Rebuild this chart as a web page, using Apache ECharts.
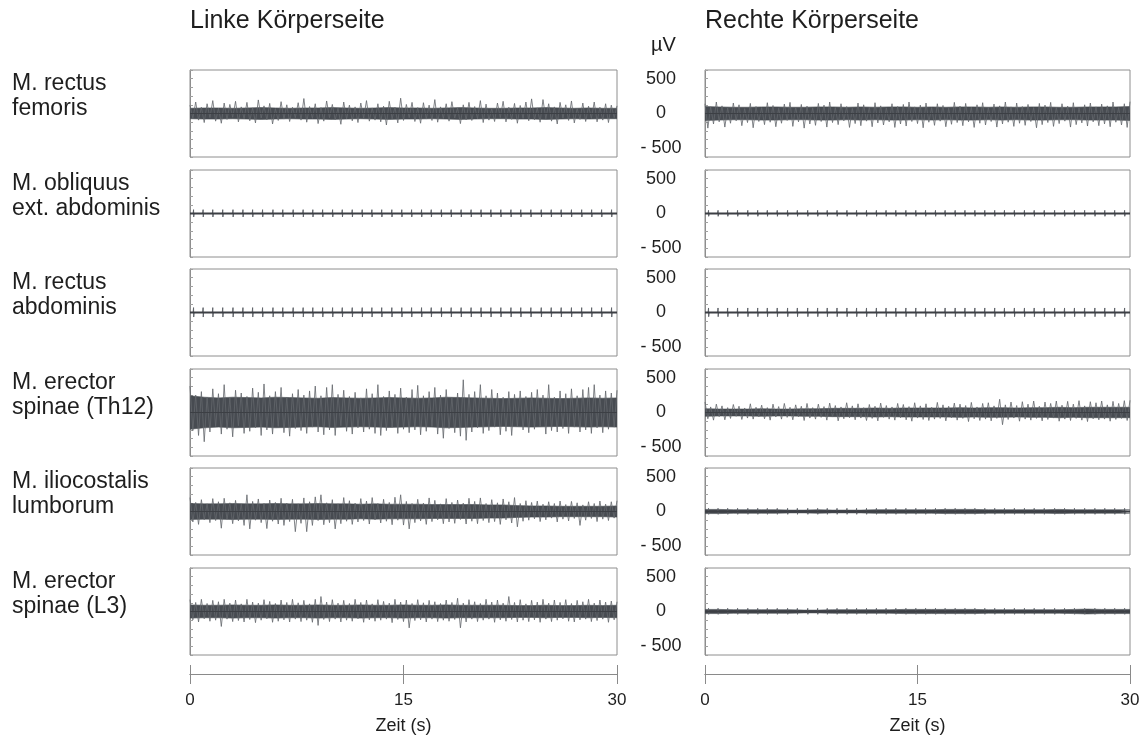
<!DOCTYPE html>
<html><head><meta charset="utf-8">
<script src="https://cdn.jsdelivr.net/npm/echarts@6/dist/echarts.min.js"></script>
<style>html,body{margin:0;padding:0;background:#fff}#c{width:1147px;height:740px}</style>
</head><body><div id="c"></div>
<script>
// ---------- DATA ----------
const sideTitles = ['Linke Körperseite', 'Rechte Körperseite'];
const rowLabels = ['M. rectus\nfemoris', 'M. obliquus\next. abdominis', 'M. rectus\nabdominis',
  'M. erector\nspinae (Th12)', 'M. iliocostalis\nlumborum', 'M. erector\nspinae (L3)'];
const unitLabel = 'µV';
const yTickLabels = [500, 0, -500];
const xTicks = [0, 15, 30];
const xName = 'Zeit (s)';
const timeMax = 30;

// heartbeat (ECG) artefact times in s
const heartbeats = [0.25, 0.92, 1.6, 2.3, 3.02, 3.72, 4.4, 5.1, 5.83, 6.52, 7.25, 7.95, 8.63, 9.32, 10.02,
  10.7, 11.4, 12.1, 12.78, 13.47, 14.18, 14.88, 15.57, 16.27, 16.95, 17.66, 18.35, 19.05, 19.75, 20.45,
  21.14, 21.84, 22.55, 23.24, 23.95, 24.68, 25.38, 26.08, 26.8, 27.52, 28.22, 28.92, 29.62];

// peak excursions (µV) every 0.2 s, alternating up/down
const spikeStep = 0.2;
const spikesL1 = [120,-70,165,-95,90,-130,140,-60,185,-110, 75,-140,150,-85,130,-55,175,-120,95,-75,
 160,-105,80,-135,195,-65,110,-90,145,-150, 70,-100,170,-80,125,-115,90,-60,155,-95,
 215,-125,100,-70,140,-145,85,-110,180,-60, 130,-90,75,-155,165,-80,120,-105,95,-130,
 150,-65,185,-110,80,-95,140,-120,105,-165, 175,-75,90,-135,220,-100,130,-60,160,-115,
 85,-140,155,-80,120,-100,200,-125,95,-70, 140,-110,170,-65,80,-145,125,-90,160,-100,
 100,-75,185,-130,135,-95,70,-115,150,-60, 175,-120,90,-85,145,-140,115,-70,165,-105,
 210,-90,80,-125,200,-75,140,-110,95,-150, 160,-65,125,-100,180,-135,75,-85,150,-115,
 105,-70,165,-120,90,-95,140,-130,120,-60,110];
const spikesR1 = [140,-210,95,-150,165,-120,110,-195,80,-140, 150,-105,125,-175,70,-130,145,-205,100,-115,
 85,-160,155,-125,115,-190,75,-140,135,-100, 160,-185,90,-120,130,-210,105,-150,80,-170,
 145,-115,120,-195,165,-130,85,-160,140,-105, 100,-200,75,-145,150,-175,125,-110,90,-190,
 155,-135,110,-165,80,-120,140,-200,100,-150, 130,-180,165,-115,95,-145,120,-205,150,-125,
 85,-170,140,-110,115,-190,75,-155,160,-130, 105,-175,145,-120,90,-200,125,-140,155,-165,
 80,-115,135,-195,110,-150,165,-125,95,-185, 150,-140,100,-170,130,-115,85,-205,145,-160,
 120,-130,160,-185,90,-145,140,-110,105,-195, 155,-160,80,-135,125,-180,150,-120,95,-175,
 135,-150,110,-190,165,-125,85,-165,140,-200,170];
const spikesL4 = [380,-260,250,-330,300,-420,220,-280,340,-200, 270,-310,400,-240,210,-350,320,-190,280,-300,
 230,-270,350,-220,290,-330,410,-250,240,-310, 300,-200,360,-290,220,-340,270,-230,330,-260,
 250,-300,310,-210,380,-280,240,-320,360,-250, 400,-330,260,-190,320,-270,230,-310,290,-220,
 210,-280,340,-240,270,-300,400,-330,230,-260, 310,-210,260,-300,350,-240,220,-290,330,-250,
 390,-320,240,-270,300,-200,360,-310,250,-370, 330,-230,210,-290,280,-340,470,-400,260,-280,
 300,-220,400,-300,240,-260,330,-210,280,-320, 220,-270,300,-330,260,-200,310,-250,230,-290,
 290,-240,330,-200,250,-310,400,-260,220,-280, 310,-230,270,-300,340,-210,240,-280,330,-250,
 360,-300,400,-220,250,-290,310,-240,280,-210,320];
const spikesR4 = [150,-90,80,-110,120,-60,95,-105,70,-85, 115,-55,90,-100,65,-80,125,-95,75,-60,
 105,-90,70,-110,120,-65,85,-95,130,-70, 75,-105,110,-60,90,-115,130,-80,70,-95,
 120,-70,85,-110,135,-65,100,-120,80,-90, 140,-75,95,-105,125,-80,70,-115,115,-85,
 90,-120,135,-70,100,-95,80,-110,130,-75, 115,-105,85,-125,140,-80,95,-100,125,-115,
 75,-95,145,-85,110,-120,90,-75,135,-110, 120,-85,100,-130,145,-90,80,-115,130,-95,
 140,-120,95,-85,190,-175,110,-100,150,-80, 100,-125,155,-95,120,-110,165,-85,90,-120,
 150,-100,130,-80,165,-125,105,-95,160,-115, 120,-85,170,-110,95,-130,155,-90,140,-105,
 165,-95,110,-125,160,-100,130,-85,170,-115,175];
const spikesL5 = [200,-150,130,-185,170,-120,110,-160,185,-130, 140,-240,190,-110,125,-175,160,-135,105,-200,
 240,-250,145,-125,180,-160,115,-245,165,-140, 130,-180,190,-200,120,-145,175,-290,110,-170,
 195,-290,140,-200,210,-130,240,-190,125,-160, 170,-250,110,-175,200,-140,155,-185,120,-150,
 185,-130,150,-180,200,-120,115,-165,175,-140, 130,-190,205,-125,240,-195,145,-250,115,-160,
 175,-135,120,-185,195,-145,160,-120,110,-175, 185,-150,130,-170,165,-115,120,-180,190,-140,
 145,-175,195,-130,115,-160,170,-145,125,-185, 180,-120,140,-165,200,-220,115,-140,155,-125,
 130,-105,150,-145,105,-120,140,-95,115,-150, 150,-110,100,-135,145,-100,125,-200,95,-125,
 140,-100,115,-145,150,-110,105,-130,140,-95,155];
const spikesL6 = [170,-120,130,-150,175,-105,115,-140,160,-125, 140,-215,175,-110,120,-145,165,-130,110,-150,
 175,-115,135,-160,120,-125,170,-105,145,-155, 115,-140,165,-120,130,-150,175,-110,125,-145,
 160,-125,110,-155,175,-200,215,-115,135,-145, 170,-110,120,-150,160,-125,115,-140,175,-105,
 130,-155,165,-120,110,-140,170,-125,145,-110, 120,-160,175,-115,135,-145,165,-235,115,-130,
 170,-120,125,-150,160,-110,140,-145,115,-125, 165,-140,130,-115,190,-235,120,-150,170,-110,
 140,-145,115,-125,175,-110,135,-155,165,-120, 120,-140,215,-115,130,-150,170,-125,110,-145,
 160,-120,135,-155,175,-110,120,-145,165,-125, 130,-105,170,-140,115,-150,160,-120,140,-110,
 175,-145,120,-130,165,-110,135,-155,150,-120,140];

// dense core amplitude (µV, ±) per 1 s
const coreStep = 1;
const coreL1 = [75,80,80,75,80,85,80,75,80,80,85,80,75,80,85,80,80,75,80,85,80,75,75,80,80,85,80,75,80,75,75];
const coreR1 = [100,95,90,90,95,95,90,90,95,95,90,95,90,95,95,90,95,90,95,95,90,95,90,95,95,90,90,95,95,95,100];
const coreL4 = [240,220,210,220,215,210,220,215,210,205,215,210,205,210,215,210,205,210,220,215,210,205,200,205,210,205,200,205,210,205,210];
const coreR4 = [55,50,50,50,55,50,50,55,55,60,60,60,65,60,65,65,65,65,70,65,70,70,65,70,70,75,70,75,75,75,75];
const coreL5 = [115,110,110,115,110,110,115,110,110,115,110,110,105,110,105,105,105,100,100,100,100,95,95,85,80,80,75,75,75,75,80];
const coreL6 = [95,90,90,95,90,90,95,90,90,95,90,90,95,90,90,95,90,90,95,90,90,90,90,85,85,90,85,85,90,85,90];
const coreR5 = [30,30,25,25,25,25,20,20,25,20,20,20,25,25,25,25,25,30,30,30,25,25,25,25,25,30,25,25,25,25,25];
const coreR6 = [30,30,25,25,25,25,25,20,20,25,25,25,25,25,30,30,30,30,30,30,25,25,25,25,25,25,30,35,30,30,30];

// heartbeat artefact amplitude [up, down] in µV
const beatL2 = [55, 50];
const beatR2 = [45, 40];
const beatL3 = [70, 65];
const beatR3 = [65, 60];
const beatR5 = [45, 40];
const beatR6 = [45, 40];

// ---------- LAYOUT ----------
const panels = [
  {row:0,col:0,spikes:spikesL1,core:coreL1}, {row:0,col:1,spikes:spikesR1,core:coreR1},
  {row:1,col:0,beat:beatL2}, {row:1,col:1,beat:beatR2},
  {row:2,col:0,beat:beatL3}, {row:2,col:1,beat:beatR3},
  {row:3,col:0,spikes:spikesL4,core:coreL4}, {row:3,col:1,spikes:spikesR4,core:coreR4},
  {row:4,col:0,spikes:spikesL5,core:coreL5}, {row:4,col:1,core:coreR5,beat:beatR5},
  {row:5,col:0,spikes:spikesL6,core:coreL6}, {row:5,col:1,core:coreR6,beat:beatR6}
];
const colLeft = [190, 705], colW = [427, 425];
const rowTop = [70, 170, 269, 369, 468, 568], panelH = 87;
const FONT = 'Liberation Sans, Arial, sans-serif';
const TXT = '#1e1e1e';
const DARK = '#474b51', LIGHT = '#63676c', FRAME = '#8e8e8e';

const grids = [], xAxes = [], yAxes = [], series = [];
panels.forEach((p, k) => {
  grids.push({left: colLeft[p.col], top: rowTop[p.row], width: colW[p.col], height: panelH,
    show: true, borderColor: FRAME, borderWidth: 1, containLabel: false});
  xAxes.push({gridIndex: k, type: 'value', min: 0, max: timeMax, show: false});
  yAxes.push({gridIndex: k, type: 'value', min: -625, max: 625, interval: 125,
    axisLine: {show: true, lineStyle: {color: FRAME, width: 1}},
    axisTick: {show: true, inside: true, length: 3, lineStyle: {color: '#a0a0a0'}},
    splitLine: {show: false},
    axisLabel: p.col === 1 ? {show: true, margin: 44, align: 'center', fontSize: 18, color: TXT, fontFamily: FONT,
      formatter: v => yTickLabels.includes(v) ? (v < 0 ? '- ' + (-v) : String(v)) : ''} : {show: false}});
  const base = {xAxisIndex: k, yAxisIndex: k, type: 'line', symbol: 'none', silent: true, animation: false};
  if (p.core) {
    [1, -1].forEach(s => series.push(Object.assign({}, base, {
      data: p.core.map((c, i) => [i * coreStep, s * c]),
      lineStyle: {color: DARK, width: 0.6}, areaStyle: {color: DARK, opacity: 1, origin: 0}})));
  }
  if (p.spikes) {
    series.push(Object.assign({}, base, {data: p.spikes.map((v, i) => [i * spikeStep, v]),
      lineStyle: {color: LIGHT, width: 0.9, opacity: 0.9}}));
  }
  if (p.beat) {
    const pts = [[0, 0]];
    heartbeats.forEach(t => { pts.push([t - 0.03, 0], [t, p.beat[0]], [t + 0.01, -p.beat[1]], [t + 0.04, 0]); });
    pts.push([timeMax, 0]);
    series.push(Object.assign({}, base, {data: pts, lineStyle: {color: '#60646a', width: 1}}));
  }
  series.push(Object.assign({}, base, {data: [[0, 0], [timeMax, 0]],
    lineStyle: {color: '#3c3f44', width: p.spikes ? 1.2 : 2.2}}));
});

// bottom time axes
[0, 1].forEach(c => {
  const g = grids.length;
  grids.push({left: colLeft[c], top: 674, width: colW[c], height: 0, show: false});
  yAxes.push({gridIndex: g, type: 'value', min: 0, max: 1, show: false});
  const common = {gridIndex: g, type: 'value', min: 0, max: timeMax, interval: 15, position: 'bottom',
    axisLine: {show: true, lineStyle: {color: '#8a8a8a', width: 1}}, splitLine: {show: false}};
  xAxes.push(Object.assign({}, common, {axisTick: {show: true, inside: true, length: 9, lineStyle: {color: '#8a8a8a'}},
    axisLabel: {show: false}}));
  xAxes.push(Object.assign({}, common, {axisTick: {show: true, inside: false, length: 10, lineStyle: {color: '#8a8a8a'}},
    axisLabel: {show: true, margin: 18, fontSize: 17, color: TXT, fontFamily: FONT,
      formatter: v => xTicks.includes(v) ? String(v) : ''},
    name: xName, nameLocation: 'middle', nameGap: 43, nameTextStyle: {fontSize: 18, color: TXT, fontFamily: FONT}}));
  series.push({type: 'line', xAxisIndex: xAxes.length - 1, yAxisIndex: yAxes.length - 1, data: [], silent: true});
});

// texts
const graphics = [];
sideTitles.forEach((t, c) => graphics.push({type: 'text', left: colLeft[c], top: 9,
  style: {text: t, font: '25px ' + FONT, fill: TXT}}));
rowLabels.forEach((t, r) => graphics.push({type: 'text', left: 12, top: rowTop[r] + 1,
  style: {text: t, font: '23px ' + FONT, fill: TXT, lineHeight: 25}}));
graphics.push({type: 'text', left: 651, top: 35, style: {text: unitLabel, font: '20px ' + FONT, fill: TXT}});

const chart = echarts.init(document.getElementById('c'), null, {renderer: 'canvas'});
chart.setOption({animation: false, backgroundColor: '#fff', grid: grids, xAxis: xAxes, yAxis: yAxes,
  series: series, graphic: graphics});
</script></body></html>
